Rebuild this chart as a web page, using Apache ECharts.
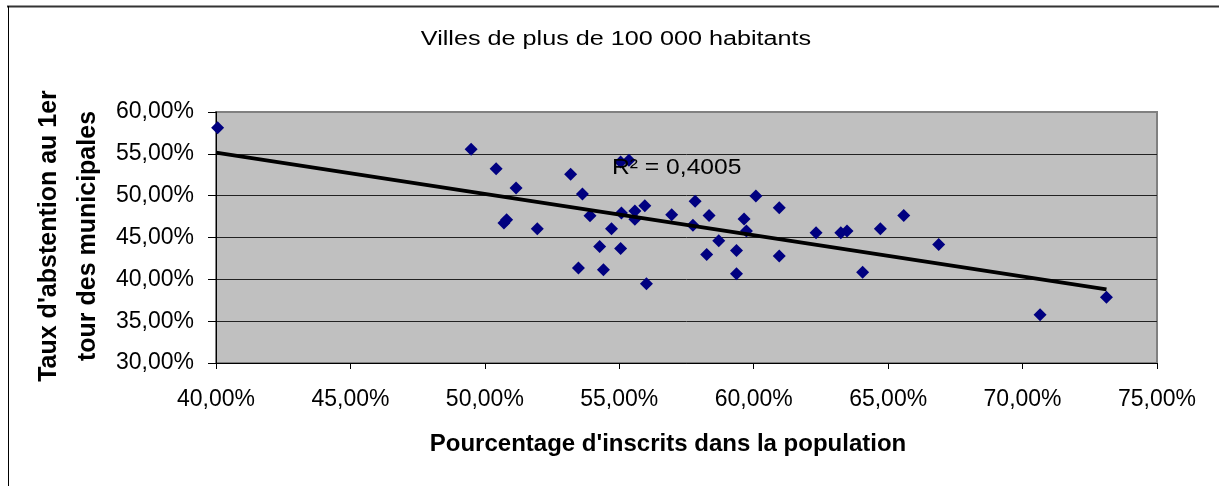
<!DOCTYPE html>
<html>
<head>
<meta charset="utf-8">
<script src="https://cdn.jsdelivr.net/npm/echarts@6/dist/echarts.min.js"></script>
<style>
html,body{margin:0;padding:0;background:#fff;}
#c{width:1219px;height:486px;}
</style>
</head>
<body>
<div id="c"></div>
<script>
// Pourcentage d'inscrits dans la population (%)
const inscrits = [40.06, 49.49, 50.42, 51.16, 50.81, 50.71, 51.95, 53.19, 53.63, 53.91, 54.27, 53.48, 54.41, 54.71, 55.05, 55.08, 55.05, 55.36, 55.58, 55.58, 55.95, 56.01, 56.95, 57.82, 57.74, 58.34, 58.25, 58.70, 59.36, 59.36, 59.64, 59.73, 60.08, 60.95, 60.95, 62.32, 63.24, 63.47, 64.05, 64.71, 65.58, 66.88, 70.65, 73.12];
// Taux d'abstention au 1er tour (%)
const abstention = [58.13, 55.54, 53.23, 50.91, 47.13, 46.72, 46.05, 52.55, 50.19, 47.60, 43.93, 41.34, 41.15, 46.05, 43.70, 47.92, 54.02, 54.22, 48.16, 47.17, 48.80, 39.47, 47.73, 49.32, 46.45, 47.64, 42.98, 44.62, 43.46, 40.67, 47.20, 45.77, 49.95, 48.56, 42.78, 45.57, 45.57, 45.77, 40.86, 46.05, 47.64, 44.17, 35.77, 37.87];
// Trend line end points
const trendX = [40.0, 73.12];
const trendY = [55.15, 38.79];
const r2Text = "0,4005";
const xTicks = {min: 40, max: 75, interval: 5};
const yTicks = {min: 30, max: 60, interval: 5};

const fmt = v => v.toFixed(2).replace('.', ',') + '%';
const FONT = '"Liberation Sans", Arial, sans-serif';

const chart = echarts.init(document.getElementById('c'), null, {renderer: 'canvas'});
chart.setOption({
  animation: false,
  backgroundColor: '#ffffff',
  grid: {
    left: 216, right: 62, top: 112, bottom: 123,
    show: true, backgroundColor: '#C0C0C0',
    borderColor: '#808080', borderWidth: 2
  },
  xAxis: {
    type: 'value', min: xTicks.min, max: xTicks.max, interval: xTicks.interval,
    axisLine: {show: true, onZero: false, lineStyle: {color: '#000', width: 1}},
    axisTick: {show: true, inside: false, length: 6, lineStyle: {color: '#000'}},
    axisLabel: {formatter: fmt, fontFamily: FONT, fontSize: 23, color: '#000', margin: 25},
    splitLine: {show: false}
  },
  yAxis: {
    type: 'value', min: yTicks.min, max: yTicks.max, interval: yTicks.interval,
    axisLine: {show: true, onZero: false, lineStyle: {color: '#000', width: 1}},
    axisTick: {show: true, inside: false, length: 8, lineStyle: {color: '#000'}},
    axisLabel: {formatter: fmt, fontFamily: FONT, fontSize: 23, color: '#000', margin: 22},
    splitLine: {show: true, lineStyle: {color: ['#222','#222','#222','#222','#222','#222','#808080'], width: 1}}
  },
  series: [
    {
      type: 'scatter',
      data: inscrits.map((x, i) => [x, abstention[i]]),
      symbol: 'diamond', symbolSize: 13,
      itemStyle: {color: '#000080', opacity: 1},
      z: 2
    },
    {
      type: 'line',
      data: trendX.map((x, i) => [x, trendY[i]]),
      showSymbol: false, symbol: 'none',
      lineStyle: {color: '#000', width: 3.8},
      z: 3
    }
  ],
  graphic: [
    {type: 'line', shape: {x1: 7, y1: 6.5, x2: 1219, y2: 6.5}, style: {stroke: '#333', lineWidth: 2}, z: 100},
    {type: 'line', shape: {x1: 8.5, y1: 6, x2: 8.5, y2: 486}, style: {stroke: '#000', lineWidth: 1}, z: 100},
    {type: 'text', x: 616, y: 39, scaleX: 1.26, z: 100,
      style: {text: 'Villes de plus de 100 000 habitants', font: '20px ' + FONT, fill: '#000', align: 'center', verticalAlign: 'middle'}},
    {type: 'text', x: 668, y: 444, z: 100,
      style: {text: "Pourcentage d'inscrits dans la population", font: 'bold 24px ' + FONT, fill: '#000', align: 'center', verticalAlign: 'middle'}},
    {type: 'text', x: 69, y: 236, rotation: Math.PI / 2, z: 100,
      style: {text: "Taux d'abstention au 1er\ntour des municipales", font: 'bold 25px ' + FONT, fill: '#000', align: 'center', verticalAlign: 'middle', lineHeight: 39}},
    {type: 'text', x: 612, y: 168, scaleX: 1.12, z: 100,
      style: {text: 'R\u00B2 = ' + r2Text, font: '22px ' + FONT, fill: '#000', align: 'left', verticalAlign: 'middle'}}
  ]
});
</script>
</body>
</html>
